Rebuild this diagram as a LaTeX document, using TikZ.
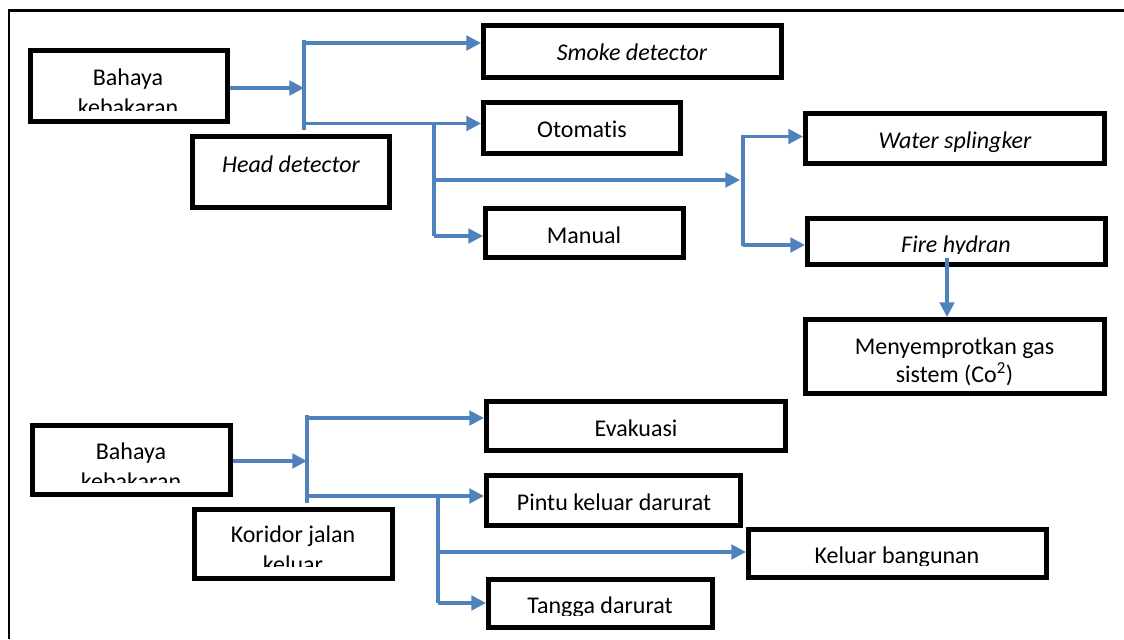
\documentclass[tikz,border=0pt]{standalone}
\usepackage{fontspec}
\setmainfont{Carlito}[Ligatures=NoCommon]
\usetikzlibrary{arrows.meta}
\definecolor{flow}{RGB}{79,129,189}
\tikzset{
  box/.style={draw=black, line width=3.4pt, inner sep=0pt},
  size/.style 2 args={minimum width=#1*0.75pt, minimum height=#2*0.75pt},
  lbl/.style={anchor=base, inner sep=0pt, align=center,
    font=\fontsize{18}{22}\selectfont},
  flowline/.style={draw=flow, line width=2.3pt},
  flowarrow/.style={flowline, -{Triangle[length=11pt,width=11pt]}},
  frame/.style={draw=black, line width=1.6pt},
}
\begin{document}
\begin{tikzpicture}[x=0.75pt, y=-0.75pt]
\useasboundingbox (0,0) rectangle (1124,639);

% page frame (top and left edges)
\draw[frame] (1124,10.5) -- (9,10.5) -- (9,639);

% ---------- fire hazard: detection and extinguishing ----------
\node[box, size={197.5}{71.5}] (b1) at (129,86) {};
\node[box, size={197.5}{71.5}] (hd) at (291,172) {};
\node[box, size={298.5}{52.5}] (sd) at (632.5,51.5) {};
\node[box, size={197.5}{51.5}] (ot) at (582,128) {};
\node[box, size={198.5}{49.5}] (ma) at (584.5,233) {};
\node[box, size={299.5}{50.5}] (ws) at (955,138.5) {};
\node[box, size={298.5}{46.5}] (fh) at (956.5,241.5) {};
\node[box, size={299.5}{74.5}] (me) at (955,356.5) {};

% two-line labels: the base anchor sits on the last line
\begin{scope}
  \clip (32,52) rectangle (226,110);
  \node[lbl] (tb1) at (128,115.3) {Bahaya\\kebakaran};
\end{scope}
\node[lbl] (thd) at (291,172) {\itshape Head detector};
\node[lbl] (tsd) at (632,60) {\itshape Smoke detector};
\node[lbl] (tot) at (582,137) {Otomatis};
\node[lbl] (tma) at (584,243) {Manual};
\node[lbl] (tws) at (955,148) {\itshape Water splingker};
\begin{scope}
  \clip (809,220) rectangle (1104,253.5);
  \node[lbl] (tfh) at (956,252) {\itshape Fire hydran};
\end{scope}
\node[lbl, font=\fontsize{18}{21}\selectfont] (tme) at (954.5,382)
  {Menyemprotkan gas\\sistem (Co\textsuperscript{2})};

% distribution bar after the hazard box
\coordinate (bar1t) at (304,40);
\coordinate (bar1b) at (304,130);
\coordinate (bar1in) at (304,88);
\coordinate (bar1a) at (304,43);
\coordinate (bar1c) at (304,123.5);
\draw[flowline] (bar1t) -- (bar1b);
\draw[flowarrow] (b1.east |- bar1in) -- (bar1in);
\draw[flowarrow] (bar1a) -- (sd.west |- bar1a);
\draw[flowarrow] (bar1c) -- (ot.west |- bar1c);

% branch to automatic / manual / extinguishing
\coordinate (j1) at (434,123.5);
\coordinate (j1m) at (434,180);
\coordinate (j1b) at (434,236);
\coordinate (bar2in) at (740,180);
\draw[flowline] (j1) -- (j1b);
\draw[flowarrow] (j1m) -- (bar2in);
\draw[flowarrow] (j1b) -- (ma.west |- j1b);

% second distribution bar
\coordinate (bar2t) at (743,135);
\coordinate (bar2b) at (743,246);
\coordinate (bar2a) at (743,136.5);
\coordinate (bar2c) at (743,245);
\draw[flowline] (bar2t) -- (bar2b);
\draw[flowarrow] (bar2a) -- (ws.west |- bar2a);
\draw[flowarrow] (bar2c) -- (fh.west |- bar2c);

% hydrant feeds the CO2 system
\coordinate (fhout) at (947,258);
\draw[flowarrow] (fhout) -- (me.north -| fhout);

% ---------- fire hazard: evacuation ----------
\node[box, size={198.5}{69.5}] (b2) at (131.5,460) {};
\node[box, size={198.5}{69.5}] (kj) at (293.5,544) {};
\node[box, size={299.5}{49.5}] (ev) at (636,426) {};
\node[box, size={254.5}{50.5}] (pk) at (613.5,500.5) {};
\node[box, size={298.5}{48.5}] (kb) at (897.5,553.5) {};
\node[box, size={224.5}{48.5}] (td) at (600.5,603.5) {};

\begin{scope}
  \clip (34,427) rectangle (229,482);
  \node[lbl] (tb2) at (131,489.3) {Bahaya\\kebakaran};
\end{scope}
\begin{scope}
  \clip (196,511) rectangle (391,566);
  \node[lbl] (tkj) at (293,572.3) {Koridor jalan\\keluar};
\end{scope}
\node[lbl] (tev) at (636,436) {Evakuasi};
\node[lbl] (tpk) at (614,510) {Pintu keluar darurat};
\begin{scope}
  \clip (750,531) rectangle (1045,565.5);
  \node[lbl] (tkb) at (897,563) {Keluar bangunan};
\end{scope}
\begin{scope}
  \clip (490,581) rectangle (711,615);
  \node[lbl] (ttd) at (600,613) {Tangga darurat};
\end{scope}

% distribution bar after the second hazard box
\coordinate (bar3t) at (307,415);
\coordinate (bar3b) at (307,503);
\coordinate (bar3in) at (307,461);
\coordinate (bar3a) at (307,418);
\coordinate (bar3c) at (307,496);
\draw[flowline] (bar3t) -- (bar3b);
\draw[flowarrow] (b2.east |- bar3in) -- (bar3in);
\draw[flowarrow] (bar3a) -- (ev.west |- bar3a);
\draw[flowarrow] (bar3c) -- (pk.west |- bar3c);

% branch to exits
\coordinate (j2) at (438,496);
\coordinate (j2m) at (438,552);
\coordinate (j2b) at (438,603);
\draw[flowline] (j2) -- (j2b);
\draw[flowarrow] (j2m) -- (kb.west |- j2m);
\draw[flowarrow] (j2b) -- (td.west |- j2b);
\end{tikzpicture}
\end{document}
